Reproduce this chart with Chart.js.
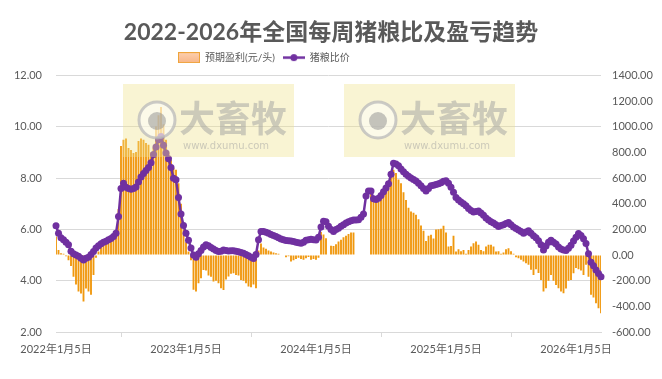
<!DOCTYPE html>
<html>
<head>
<meta charset="utf-8">
<script src="https://cdn.jsdelivr.net/npm/chart.js@4.4.1/dist/chart.umd.min.js"></script>
<style>
  html, body { margin: 0; padding: 0; background: #fff; }
  #wrap { width: 662px; height: 379px; }
</style>
</head>
<body>
<div id="wrap"><canvas id="myChart" width="662" height="379"></canvas></div>
<script>
// weekly data, first week 2022-01-05
var startDate = '2022-01-05';

// 猪粮比价 (left axis)
var ratio = [
  6.14, 5.85, 5.68, 5.6, 5.5, 5.4, 5.15, 5.05, 5.0, 4.95,
  4.88, 4.81, 4.88, 4.92, 5.02, 5.14, 5.28, 5.36, 5.44, 5.5,
  5.54, 5.6, 5.65, 5.72, 5.85, 6.5, 7.6, 7.8, 7.65, 7.6,
  7.57, 7.6, 7.66, 7.85, 8.05, 8.18, 8.3, 8.42, 8.6, 8.92,
  9.22, 9.5, 9.62, 9.28, 8.98, 8.76, 8.42, 8.0, 7.94, 7.25,
  6.6, 6.15, 5.85, 5.58, 5.28, 5.0, 4.92, 5.05, 5.18, 5.32,
  5.4, 5.36, 5.3, 5.24, 5.18, 5.14, 5.15, 5.2, 5.18, 5.16,
  5.17, 5.17, 5.15, 5.13, 5.1, 5.07, 5.02, 4.97, 4.92, 4.87,
  5.02, 5.6, 5.92, 5.92, 5.89, 5.85, 5.8, 5.76, 5.72, 5.68,
  5.63, 5.6, 5.57, 5.56, 5.55, 5.53, 5.5, 5.48, 5.46, 5.5,
  5.58, 5.6, 5.62, 5.6, 5.59, 5.7, 6.1, 6.32, 6.3, 6.12,
  6.0, 5.92, 6.0, 6.05, 6.12, 6.18, 6.25, 6.3, 6.34, 6.37,
  6.37, 6.38, 6.48, 6.6, 7.3, 7.5, 7.5, 7.2, 7.17, 7.22,
  7.32, 7.47, 7.62, 7.78, 8.15, 8.58, 8.55, 8.48, 8.36, 8.25,
  8.15, 8.07, 8.01, 7.95, 7.89, 7.8, 7.7, 7.6, 7.5, 7.6,
  7.7, 7.72, 7.75, 7.78, 7.82, 7.88, 7.9, 7.8, 7.65, 7.45,
  7.25, 7.15, 7.07, 7.0, 6.92, 6.82, 6.74, 6.68, 6.7, 6.72,
  6.64, 6.55, 6.45, 6.37, 6.3, 6.25, 6.18, 6.11, 6.15, 6.18,
  6.23, 6.27, 6.18, 6.1, 6.04, 5.98, 5.92, 5.85, 5.9, 5.95,
  5.85, 5.75, 5.68, 5.56, 5.4, 5.2, 5.35, 5.5, 5.58, 5.5,
  5.43, 5.32, 5.24, 5.2, 5.18, 5.27, 5.38, 5.55, 5.7, 5.84,
  5.76, 5.64, 5.45, 5.05, 4.72, 4.58, 4.42, 4.28, 4.15
];

// 预期盈利(元/头) (right axis)
var profit = [
  145, 40, 15, 10, -10, -40, -85, -170, -230, -285,
  -300, -363, -260, -285, -310, -155, -20, 27, 66, 80,
  90, 100, 110, 132, 190, 360, 850, 900, 910, 835,
  820, 796, 805, 890, 910, 900, 874, 861, 800, 840,
  1004, 1090, 1155, 1020, 900, 800, 740, 680, 665, 560,
  400, 200, 100, 27, -40, -270, -285, -220, -181, -116,
  -120, -160, -170, -207, -200, -220, -259, -272, -190, -168,
  -145, -142, -155, -160, -194, -200, -220, -246, -251, -230,
  -259, 35, 90, 60, 50, 35, 27, 20, 15, 10,
  5, 0, -17, -10, -50, -40, -30, -20, -30, -37,
  -25, -15, -37, -30, -37, -20, 180, 160, 132, 0,
  72, 70, 85, 105, 119, 140, 150, 165, 176, 176,
  null, null, null, null, null, null, 483, 457, 431, 418,
  444, 483, 530, 580, 630, 665, 640, 590, 561, 490,
  430, 370, 340, 330, 314, 280, 230, 190, 110, 150,
  158, 130, 200, 202, 205, 228, 176, 66, 70, 150,
  27, 46, 30, 40, 10, 40, 66, 93, 105, 80,
  40, 30, 66, 80, 80, 66, 27, 30, 10, 20,
  45, 53, 30, 10, -17, -24, -37, -50, -63, -76,
  -115, -155, -110, -140, -194, -285, -259, -200, -155, -200,
  -233, -259, -285, -298, -260, -200, -194, -142, -100, -110,
  -120, -155, -75, -170, -310, -330, -376, -415, -454
];

// year labels shown every 52 weeks
var xTickLabels = ['2022年1月5日', '2023年1月5日', '2024年1月5日', '2025年1月5日', '2026年1月5日'];

// weekly category labels
var weeks = [];
var d0 = new Date(startDate + 'T00:00:00');
for (var i = 0; i < ratio.length; i++) {
    var d = new Date(d0.getTime() + i * 7 * 86400000);
    weeks.push(d.getFullYear() + '年' + (d.getMonth() + 1) + '月' + d.getDate() + '日');
}

var fontFamily = "Lato, 'Noto Sans CJK SC', sans-serif";
var textColor = '#595959';
var gridColor = '#D9D9D9';

Chart.defaults.font.family = fontFamily;
Chart.defaults.color = textColor;

// legend icons
function makeIcon(kind) {
    var c = document.createElement('canvas');
    c.width = 22; c.height = 11;
    var g = c.getContext('2d');
    if (kind === 'bar') {
        var grad = g.createLinearGradient(0, 0, 0, 11);
        grad.addColorStop(0, '#FCD0B0');
        grad.addColorStop(1, '#F8B586');
        g.fillStyle = grad;
        g.fillRect(0.5, 0.5, 21, 10);
        g.strokeStyle = '#EFA43A';
        g.lineWidth = 1;
        g.strokeRect(0.5, 0.5, 21, 10);
    } else {
        g.strokeStyle = '#7030A0';
        g.lineWidth = 2.5;
        g.beginPath(); g.moveTo(0, 5.5); g.lineTo(22, 5.5); g.stroke();
        g.fillStyle = '#7030A0';
        g.beginPath(); g.arc(11, 5.5, 3.5, 0, Math.PI * 2); g.fill();
    }
    return c;
}
var barIcon = makeIcon('bar');
var lineIcon = makeIcon('line');

// legend sits left of centre and leaves a little room below it
var legendPlace = {
    id: 'legendPlace',
    beforeInit: function(chart) {
        var fit = chart.legend.fit;
        chart.legend.fit = function() {
            fit.call(this);
            this.height += 3;
        };
    },
    afterLayout: function(chart) {
        chart.legend.left = 170;
    }
};

// 大畜牧 watermark boxes
var watermark = {
    id: 'watermark',
    afterDatasetsDraw: function(chart) {
        var ctx = chart.ctx;
        [123, 344].forEach(function(x0) {
            ctx.save();
            ctx.fillStyle = 'rgba(238,226,140,0.38)';
            ctx.fillRect(x0, 84, 171, 73);
            ctx.beginPath();
            ctx.arc(x0 + 34, 120, 18, 0, Math.PI * 2);
            ctx.fillStyle = 'rgba(255,255,255,0.5)';
            ctx.fill();
            ctx.lineWidth = 3;
            ctx.strokeStyle = 'rgba(185,185,185,0.75)';
            ctx.stroke();
            ctx.beginPath();
            ctx.arc(x0 + 34, 121, 9, 0, Math.PI * 2);
            ctx.fillStyle = 'rgba(150,150,150,0.55)';
            ctx.fill();
            ctx.fillStyle = 'rgba(160,160,160,0.5)';
            ctx.textBaseline = 'middle';
            ctx.font = "bold 36px 'Noto Sans CJK SC'";
            ctx.fillText('大畜牧', x0 + 56, 118);
            ctx.font = "10px 'DejaVu Sans'";
            ctx.fillText('www.dxumu.com', x0 + 60, 146);
            ctx.restore();
        });
    }
};

var ctx = document.getElementById('myChart').getContext('2d');

var myChart = new Chart(ctx, {
    type: 'bar',
    data: {
        labels: weeks,
        datasets: [{
            type: 'bar',
            label: '预期盈利(元/头)',
            data: profit,
            yAxisID: 'y1',
            backgroundColor: '#F0980E',
            categoryPercentage: 1,
            barPercentage: 0.75,
            order: 2
        }, {
            type: 'line',
            label: '猪粮比价',
            data: ratio,
            yAxisID: 'y',
            borderColor: '#7030A0',
            borderWidth: 2.5,
            pointRadius: 3.5,
            pointBackgroundColor: '#7030A0',
            pointBorderWidth: 0,
            tension: 0,
            order: 1
        }]
    },
    options: {
        responsive: false,
        animation: false,
        layout: { padding: { top: 0, bottom: 0, left: 0, right: 0 } },
        plugins: {
            title: {
                display: true,
                text: '2022-2026年全国每周猪粮比及盈亏趋势',
                color: textColor,
                font: { size: 23, weight: 'bold' },
                padding: { top: 19, bottom: -2 }
            },
            legend: {
                display: true,
                align: 'start',
                labels: {
                    usePointStyle: true,
                    pointStyleWidth: 22,
                    padding: 8,
                    color: textColor,
                    font: { size: 10 },
                    generateLabels: function(chart) {
                        return [
                            { text: '预期盈利(元/头)', pointStyle: barIcon, fillStyle: '#F8B586', strokeStyle: '#EFA43A', lineWidth: 0, fontColor: textColor, hidden: !chart.isDatasetVisible(0), datasetIndex: 0 },
                            { text: '猪粮比价', pointStyle: lineIcon, fillStyle: '#7030A0', strokeStyle: '#7030A0', lineWidth: 0, fontColor: textColor, hidden: !chart.isDatasetVisible(1), datasetIndex: 1 }
                        ];
                    }
                }
            },
            tooltip: { enabled: false }
        },
        scales: {
            x: {
                offset: false,
                grid: { display: true, drawOnChartArea: false, drawTicks: true, tickLength: 5, color: gridColor },
                border: { display: true, color: gridColor },
                ticks: {
                    autoSkip: false,
                    maxRotation: 0,
                    minRotation: 0,
                    padding: 6,
                    font: { size: 11 },
                    callback: function(v, i) {
                        return i % 52 === 0 ? xTickLabels[i / 52] : null;
                    }
                },
                afterFit: function(scale) { scale.height = 47; }
            },
            y: {
                position: 'left',
                min: 2,
                max: 12,
                ticks: { stepSize: 2, padding: 14, font: { size: 11 }, callback: function(v) { return v.toFixed(2); } },
                grid: { color: gridColor, drawTicks: false },
                border: { display: false },
                afterFit: function(scale) { scale.width = 56; }
            },
            y1: {
                position: 'right',
                min: -600,
                max: 1400,
                ticks: { stepSize: 200, padding: 11, font: { size: 11 }, callback: function(v) { return v.toFixed(2); } },
                grid: { drawOnChartArea: false, drawTicks: false },
                border: { display: false },
                afterFit: function(scale) { scale.width = 61; }
            }
        }
    },
    plugins: [legendPlace, watermark]
});
</script>
</body>
</html>
